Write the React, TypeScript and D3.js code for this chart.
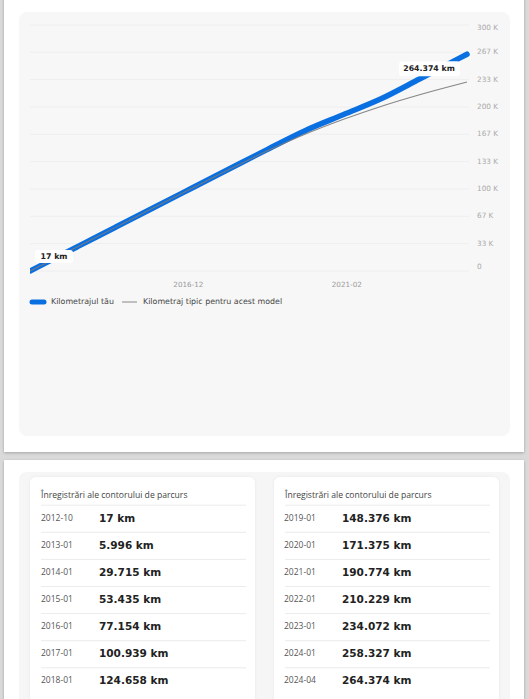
import React from "react";
import * as d3 from "d3";

const recordDates = [
  "2012-10", "2013-01", "2014-01", "2015-01", "2016-01", "2017-01", "2018-01",
  "2019-01", "2020-01", "2021-01", "2022-01", "2023-01", "2024-01", "2024-04",
];
const yourKm = [
  17, 5996, 29715, 53435, 77154, 100939, 124658,
  148376, 171375, 190774, 210229, 234072, 258327, 264374,
];
const typicalDates = [
  "2012-10", "2013-01", "2014-01", "2015-01", "2016-01", "2017-01", "2018-01",
  "2019-01", "2020-01", "2021-01", "2022-01", "2023-01", "2024-01", "2024-04",
];
const typicalKm = [
  0, 5800, 29500, 53200, 77000, 100500, 124000,
  146500, 167000, 185000, 201000, 215000, 227500, 230500,
];
const yTickValues = [0, 33333, 66667, 100000, 133333, 166667, 200000, 233333, 266667, 300000];
const yTickLabels = ["0", "33 K", "67 K", "100 K", "133 K", "167 K", "200 K", "233 K", "267 K", "300 K"];
const xTickLabels = ["2016-12", "2021-02"];
const tableTitle = "Înregistrări ale contorului de parcurs";
const legendLabels = ["Kilometrajul tău", "Kilometraj tipic pentru acest model"];

const W = 529;
const H = 699;
const parse = d3.timeParse("%Y-%m");
const fmtKm = (v: number) => d3.format(",")(v).replace(/,/g, ".") + " km";

const BLUE = "#0a6fe0";
const DV = "DejaVu Sans, sans-serif";
const OS = "'Open Sans', sans-serif";

export default function App() {
  const x = d3
    .scaleTime()
    .domain([parse("2012-10")!, parse("2024-04")!])
    .range([30, 467]);
  const y = d3.scaleLinear().domain([0, 300000]).range([271, 25]);

  const yourPts = recordDates.map((d, i) => [x(parse(d)!), y(yourKm[i])] as [number, number]);
  const typPts = typicalDates.map((d, i) => [x(parse(d)!), y(typicalKm[i])] as [number, number]);
  const line = d3.line().curve(d3.curveMonotoneX);

  const firstPt = yourPts[0];
  const lastPt = yourPts[yourPts.length - 1];

  const leftRows = recordDates.slice(0, 7).map((d, i) => ({ d, v: yourKm[i] }));
  const rightRows = recordDates.slice(7).map((d, i) => ({ d, v: yourKm[i + 7] }));

  const renderTable = (rows: { d: string; v: number }[], cx: number, dateX: number, valX: number) => (
    <g>
      <rect x={cx} y={477} width={225} height={230} rx={6} fill="#ffffff" filter="url(#subshadow)" />
      <text x={cx + 11} y={496} fontFamily={OS} fontSize={8.6} fill="#444" dominantBaseline="middle">
        {tableTitle}
      </text>
      {rows.map((r, i) => {
        const cy = 518.5 + i * 27.1;
        return (
          <g key={r.d}>
            <line x1={cx + 11} x2={cx + 216} y1={cy - 13.3} y2={cy - 13.3} stroke="#ececec" strokeWidth={1} />
            <text x={dateX} y={cy} fontFamily={OS} fontSize={8.5} fill="#555" dominantBaseline="middle">
              {r.d}
            </text>
            <text x={valX} y={cy} fontFamily={DV} fontSize={10.5} fontWeight="bold" fill="#222" dominantBaseline="middle">
              {fmtKm(r.v)}
            </text>
          </g>
        );
      })}
    </g>
  );

  return (
    <div style={{ position: "absolute", left: 0, top: 0 }}>
      <svg width={W} height={H} viewBox={`0 0 ${W} ${H}`} style={{ display: "block" }}>
        <defs>
          <filter id="cardshadow" x="-5%" y="-5%" width="110%" height="110%">
            <feDropShadow dx="0" dy="1" stdDeviation="1.5" floodColor="#000" floodOpacity="0.25" />
          </filter>
          <filter id="subshadow" x="-5%" y="-5%" width="110%" height="110%">
            <feDropShadow dx="0" dy="0" stdDeviation="1.5" floodColor="#000" floodOpacity="0.06" />
          </filter>
          <clipPath id="plotclip">
            <rect x={30} y={0} width={460} height={300} />
          </clipPath>
        </defs>
        <rect x={0} y={0} width={W} height={H} fill="#dadada" />
        {/* cards */}
        <rect x={4} y={-6} width={520} height={458} fill="#ffffff" filter="url(#cardshadow)" />
        <rect x={4} y={460} width={520} height={250} fill="#ffffff" filter="url(#cardshadow)" />

        {/* chart panel */}
        <rect x={19} y={12} width={491} height={424} rx={8} fill="#f7f7f7" />
        {yTickValues.map((v) => (
          <line key={v} x1={30} x2={469} y1={y(v)} y2={y(v)} stroke="#eeeeee" strokeWidth={1} />
        ))}
        {yTickValues.map((v, i) => (
          <text
            key={"l" + v}
            x={477}
            y={Math.min(267, Math.max(28, y(v)))}
            fontFamily={DV}
            fontSize={7.3}
            fill="#aaaaaa"
            dominantBaseline="middle"
          >
            {yTickLabels[i]}
          </text>
        ))}
        {xTickLabels.map((t) => (
          <text
            key={t}
            x={x(parse(t)!)}
            y={285}
            fontFamily={DV}
            fontSize={7.2}
            fill="#999999"
            textAnchor="middle"
            dominantBaseline="middle"
          >
            {t}
          </text>
        ))}

        <g clipPath="url(#plotclip)">
          <path d={line(yourPts) || ""} fill="none" stroke={BLUE} strokeWidth={5.5} strokeLinecap="round" strokeLinejoin="round" />
          <path d={line(typPts) || ""} fill="none" stroke="#7a7a7a" strokeWidth={1.1} strokeOpacity={0.9} />
        </g>

        {/* value labels */}
        <rect x={firstPt[0] + 5} y={firstPt[1] - 21} width={38} height={13} rx={3} fill="#ffffff" />
        <text x={firstPt[0] + 24} y={firstPt[1] - 14.3} fontFamily={DV} fontSize={7.8} fontWeight="bold" fill="#222" textAnchor="middle" dominantBaseline="middle">
          {fmtKm(yourKm[0])}
        </text>
        <rect x={lastPt[0] - 68} y={lastPt[1] + 7} width={61} height={15} rx={3} fill="#ffffff" />
        <text x={lastPt[0] - 38} y={lastPt[1] + 14.5} fontFamily={DV} fontSize={7.8} fontWeight="bold" fill="#222" textAnchor="middle" dominantBaseline="middle">
          {fmtKm(yourKm[yourKm.length - 1])}
        </text>

        {/* legend */}
        <line x1={32} x2={44} y1={302} y2={302} stroke={BLUE} strokeWidth={5} strokeLinecap="round" />
        <text x={51} y={302} fontFamily={DV} fontSize={7.9} fill="#444" dominantBaseline="middle">
          {legendLabels[0]}
        </text>
        <line x1={122} x2={137} y1={302} y2={302} stroke="#888" strokeWidth={1} />
        <text x={143} y={302} fontFamily={DV} fontSize={7.9} fill="#444" dominantBaseline="middle">
          {legendLabels[1]}
        </text>

        {/* table panel */}
        <rect x={19} y={472} width={491} height={240} rx={8} fill="#f6f6f6" />
        {renderTable(leftRows, 30, 41, 99)}
        {renderTable(rightRows, 274, 284, 342)}
      </svg>
    </div>
  );
}
